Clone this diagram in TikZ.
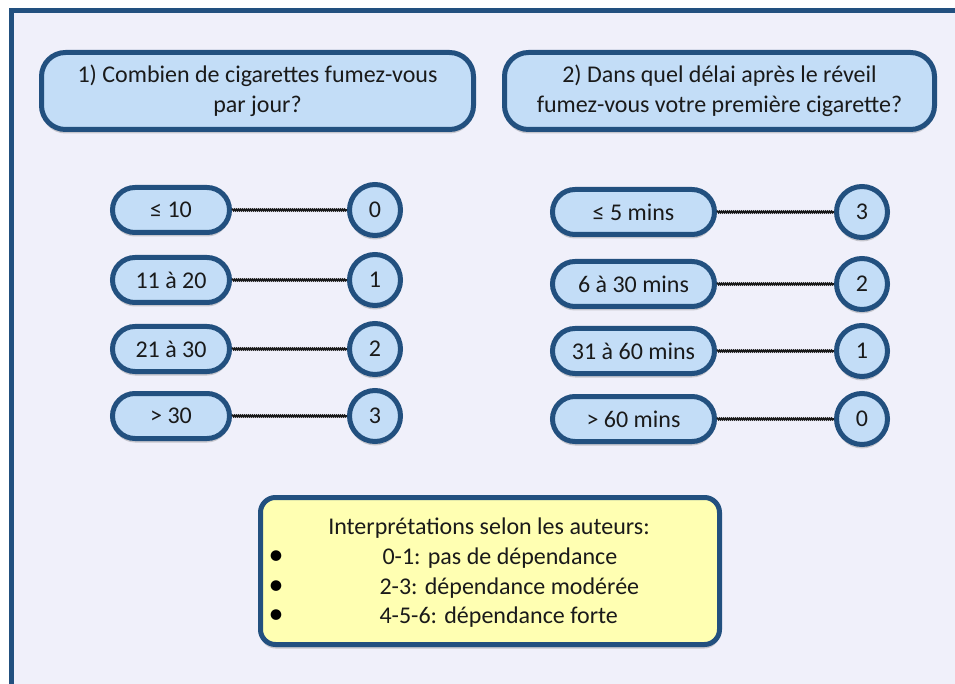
\documentclass[tikz,border=0pt]{standalone}
\usepackage{fontspec}
\setmainfont{Carlito}
\usetikzlibrary{shadows,decorations.pathmorphing}
\definecolor{frameblue}{HTML}{22507F}
\definecolor{paleback}{HTML}{F0F0FA}
\definecolor{boxblue}{HTML}{C3DDF7}
\definecolor{paleyellow}{HTML}{FFFFB2}
\definecolor{ink}{HTML}{1A1A1A}
\tikzset{
  shade/.style={drop shadow={shadow xshift=0pt, shadow yshift=-4pt, opacity=.3, fill=black!60}},
  question/.style={draw=frameblue, line width=5pt, fill=boxblue, rounded corners=24pt,
    minimum width=432pt, minimum height=77pt, align=center, text=ink, shade,
    font=\fontsize{24}{30}\selectfont},
  answer/.style={draw=frameblue, line width=5pt, fill=boxblue, rounded corners=22.5pt,
    minimum height=45pt, text=ink, shade, font=\fontsize{24}{28}\selectfont},
  score/.style={draw=frameblue, line width=5pt, fill=boxblue, circle,
    minimum size=51pt, inner sep=0pt, text=ink, shade, font=\fontsize{24}{28}\selectfont},
  link/.style={draw=black!90, line width=1.8pt, decorate,
    decoration={snake, amplitude=.6pt, segment length=2pt}},
  note/.style={text=ink, font=\fontsize{24}{28}\selectfont},
  dot/.style={text=black, inner sep=0pt, font=\fontsize{30}{24}\selectfont},
}
\begin{document}
\begin{tikzpicture}[x=1pt,y=-1pt]
  \useasboundingbox (0,0) rectangle (955,684);
  \clip (0,0) rectangle (955,684);
  % frame
  \fill[white] (0,0) rectangle (955,684);
  \draw[frameblue, line width=5pt, fill=paleback] (11.5,10.5) rectangle (970,700);
  % questions
  \node[question] (q1) at (257.5,91) {1) Combien de cigarettes fumez-vous\\par jour?};
  \node[question, minimum width=430pt] (q2) at (719.5,91) {2) Dans quel délai après le réveil\\fumez-vous votre première cigarette?};
  % answers, left
  \node[answer, minimum width=117pt] (a1) at (171,210) {≤ 10};
  \node[answer, minimum width=117pt] (a2) at (171,280) {11 à 20};
  \node[answer, minimum width=117pt] (a3) at (171,349) {21 à 30};
  \node[answer, minimum width=117pt] (a4) at (171,416) {> 30};
  \node[score] (s1) at (375,210) {0};
  \node[score] (s2) at (375,280) {1};
  \node[score] (s3) at (375,349) {2};
  \node[score] (s4) at (375,416) {3};
  % answers, right
  \node[answer, minimum width=162pt] (b1) at (633.5,212) {≤ 5 mins};
  \node[answer, minimum width=162pt] (b2) at (633.5,284) {6 à 30 mins};
  \node[answer, minimum width=162pt] (b3) at (633.5,351) {31 à 60 mins};
  \node[answer, minimum width=162pt] (b4) at (633.5,419) {> 60 mins};
  \node[score] (t1) at (862,212) {3};
  \node[score] (t2) at (862,284) {2};
  \node[score] (t3) at (862,351) {1};
  \node[score] (t4) at (862,419) {0};
  % lines
  \path[link] (a1) -- (s1);
  \path[link] (a2) -- (s2);
  \path[link] (a3) -- (s3);
  \path[link] (a4) -- (s4);
  \path[link] (b1) -- (t1);
  \path[link] (b2) -- (t2);
  \path[link] (b3) -- (t3);
  \path[link] (b4) -- (t4);
  % interpretation
  \node[draw=frameblue, line width=5pt, fill=paleyellow, rounded corners=15pt, shade,
    minimum width=459pt, minimum height=147pt] (interp) at (490,571) {};
  \node[note] (title) at (489,528) {Interprétations selon les auteurs:};
  \node[dot] (d1) at (276,558) {•};
  \node[dot] (d2) at (276,588) {•};
  \node[dot] (d3) at (276,617) {•};
  \node[note, anchor=west] (l1) at (379,558) {0-1: pas de dépendance};
  \node[note, anchor=west] (l2) at (376,588) {2-3: dépendance modérée};
  \node[note, anchor=west] (l3) at (376,617) {4-5-6: dépendance forte};
\end{tikzpicture}
\end{document}
